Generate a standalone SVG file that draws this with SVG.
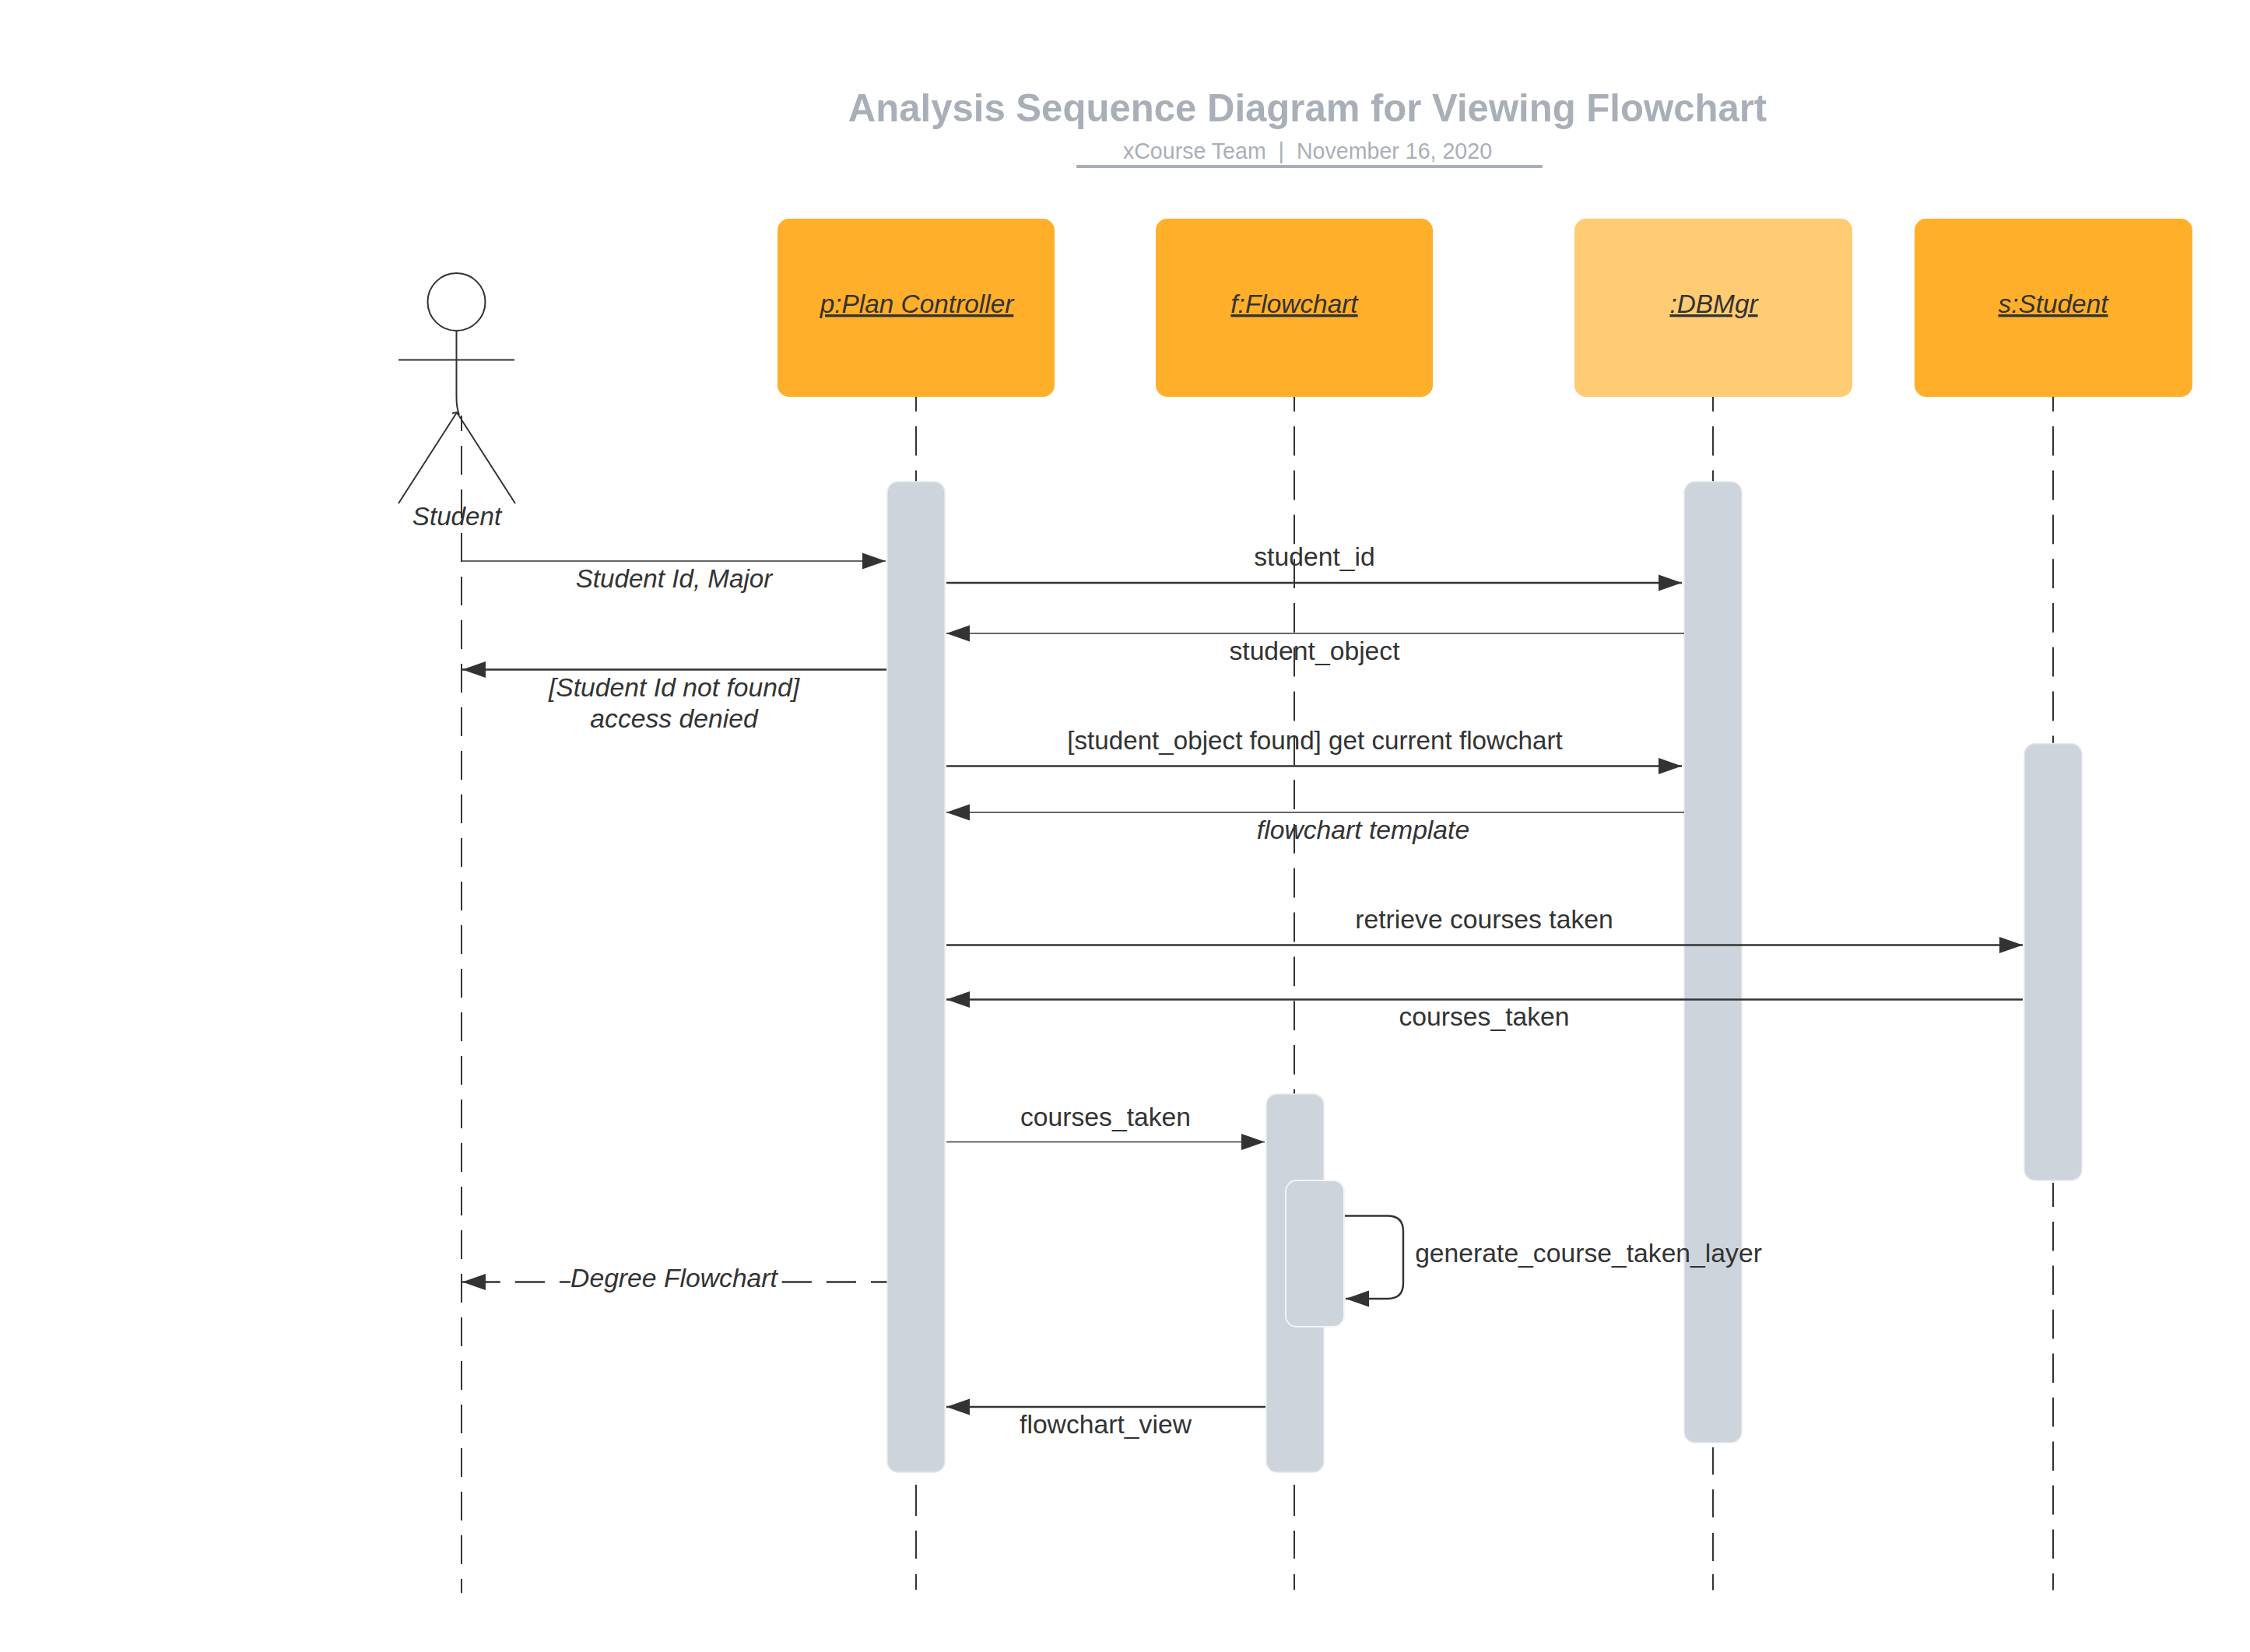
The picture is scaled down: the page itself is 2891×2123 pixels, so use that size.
<svg xmlns="http://www.w3.org/2000/svg" width="2891" height="2123" viewBox="0 0 2891 2123">
<style>
text{font-family:"Liberation Sans",Arial,sans-serif;fill:#333;font-size:33.7px;text-anchor:middle}
.i{font-style:italic}
.s{font-size:33.2px}
.u{font-style:italic;text-decoration:underline;font-size:33.4px}
.title{font-size:49.1px;font-weight:bold;fill:#a9afb8}
.sub{font-size:28.6px;fill:#a9afb8;white-space:pre}
.head{fill:#ffaf29}
.headl{fill:#ffcb73}
.act{fill:#ced4dc;stroke:#e6e9ee;stroke-width:1.5}
.life{stroke:#333;stroke-width:2;fill:none;stroke-dasharray:37.8 19;stroke-dashoffset:19}
.thin{stroke:#333;stroke-width:1.4;fill:none}
.thick{stroke:#333;stroke-width:2.4;fill:none}
.fig{stroke:#333;stroke-width:2;fill:none}
</style>
<defs>
<marker id="arrow" markerUnits="userSpaceOnUse" markerWidth="32" markerHeight="23" refX="30" refY="11.5" orient="auto"><path d="M0 1 L30 11.5 L0 22 Z" fill="#333"/></marker>
</defs>
<rect width="2891" height="2123" fill="#fff"/>
<g id="title">
<text class="title" x="1680" y="156">Analysis Sequence Diagram for Viewing Flowchart</text>
<text class="sub" x="1680" y="204">xCourse Team  |  November 16, 2020</text>
<rect x="1383" y="212" width="599" height="4" fill="#a9afb8"/>
</g>
<g id="lifelines">
<path class="life" d="M593 534V2047" style="stroke-dasharray:37 19;stroke-dashoffset:17"/>
<path class="life" d="M1177 510V619"/>
<path class="life" d="M1177 1908V2043" style="stroke-dasharray:40 19 36 20 20;stroke-dashoffset:0"/>
<path class="life" d="M1663 510V1406"/>
<path class="life" d="M1663 1908V2043" style="stroke-dasharray:40 19 36 20 20;stroke-dashoffset:0"/>
<path class="life" d="M2201 510V619"/>
<path class="life" d="M2201 1860V2043.5" style="stroke-dasharray:35 19 36 20 36 17 21;stroke-dashoffset:0"/>
<path class="life" d="M2638 510V955"/>
<path class="life" d="M2638 1520V2043.5" style="stroke-dasharray:37.5 19;stroke-dashoffset:6.5"/>
</g>
<g id="actor-student">
<ellipse class="fig" cx="586.5" cy="388" rx="37" ry="37"/>
<path class="fig" d="M512 462.5H661M586.5 425V510Q586.5 524 590 533M512 647L587 530L662 647M581 531L587 530"/>
<text class="i s" x="587" y="675">Student</text>
</g>
<g id="node-plan-controller">
<rect class="head" x="999" y="281" width="356" height="229" rx="15"/>
<text class="u" x="1178" y="402">p:Plan Controller</text>
</g>
<g id="node-flowchart">
<rect class="head" x="1485" y="281" width="356" height="229" rx="15"/>
<text class="u" x="1663" y="402">f:Flowchart</text>
</g>
<g id="node-dbmgr">
<rect class="headl" x="2023" y="281" width="357" height="229" rx="15"/>
<text class="u" x="2202" y="402">:DBMgr</text>
</g>
<g id="node-student">
<rect class="head" x="2460" y="281" width="357" height="229" rx="15"/>
<text class="u" x="2638" y="402">s:Student</text>
</g>
<g id="activations">
<rect class="act" x="1140" y="619" width="74" height="1273" rx="14"/>
<rect class="act" x="2164" y="619" width="74" height="1235" rx="14"/>
<rect class="act" x="2601" y="955.5" width="74" height="561.5" rx="14"/>
<rect class="act" x="1627" y="1406" width="74" height="486" rx="14"/>
<rect class="act" x="1652" y="1517" width="75" height="188" rx="14" style="stroke:#f2f4f7;stroke-width:2"/>
</g>
<g id="connectors">
<path class="thin" d="M593 721H1138" marker-end="url(#arrow)"/>
<path class="thick" d="M1216 749H2161" marker-end="url(#arrow)"/>
<path class="thin" d="M2164 814H1216" marker-end="url(#arrow)"/>
<path class="thick" d="M1139 860.5H594" marker-end="url(#arrow)"/>
<path class="thick" d="M1216 984.5H2161" marker-end="url(#arrow)"/>
<path class="thin" d="M2164 1044H1216" marker-end="url(#arrow)"/>
<path class="thick" d="M1216 1214.5H2599" marker-end="url(#arrow)"/>
<path class="thick" d="M2599 1284.5H1216" marker-end="url(#arrow)"/>
<path class="thin" d="M1216 1467.5H1625" marker-end="url(#arrow)"/>
<path class="thick" d="M1728 1562.5H1783Q1803 1562.5 1803 1582.5V1649Q1803 1669 1783 1669H1729" marker-end="url(#arrow)"/>
<path class="thick" d="M1626 1808H1216" marker-end="url(#arrow)"/>
<path d="M604.65 1647.5H1139.5" class="thick" style="stroke-dasharray:38.2 18.95"/>
<path d="M625 1647.5H594" class="thick" marker-end="url(#arrow)"/>
</g>
<g id="labels">
<text class="i s" x="866" y="755">Student Id, Major</text>
<text x="1689" y="727">student_id</text>
<text x="1689" y="848">student_object</text>
<text class="i" x="866" y="895">[Student Id not found]</text>
<text class="i" x="866" y="935">access denied</text>
<text class="s" x="1689.5" y="963">[student_object found] get current flowchart</text>
<text class="i" x="1751.5" y="1078">flowchart template</text>
<text x="1907" y="1193">retrieve courses taken</text>
<text x="1907" y="1318">courses_taken</text>
<text x="1420.5" y="1447">courses_taken</text>
<text x="2041" y="1622">generate_course_taken_layer</text>
<rect x="733" y="1625" width="270" height="44" fill="#fff"/>
<text class="i" x="866" y="1654">Degree Flowchart</text>
<text x="1420.5" y="1842">flowchart_view</text>
</g>
</svg>
